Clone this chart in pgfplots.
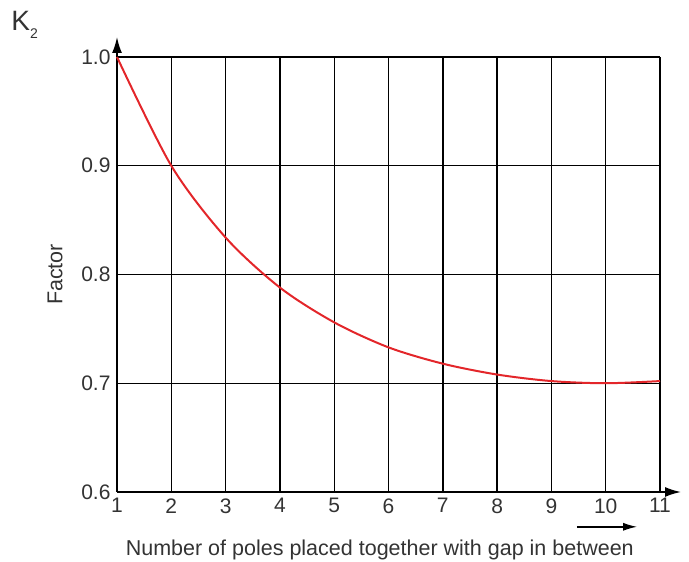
\documentclass[border=0pt]{standalone}
\usepackage{pgfplots}
\pgfplotsset{compat=1.18}
\usepackage{fontspec}
\setmainfont{Liberation Sans}
\usetikzlibrary{arrows.meta}
\definecolor{curvered}{HTML}{E3262A}
\definecolor{txt}{HTML}{333333}

\begin{document}
\begin{tikzpicture}
	% fixed page size, 1pt = 1px of the reference
	\useasboundingbox (0,0) rectangle (689pt,562pt);
	\begin{axis}[
	at={(117pt,70pt)},
	anchor=south west,
	scale only axis,
	width=543pt,
	height=435pt,
	xmin=1, xmax=11,
	ymin=0.6, ymax=1.0,
	xtick={1,...,11},
	ytick={0.6,0.7,0.8,0.9,1.0},
	yticklabel style={/pgf/number format/fixed, /pgf/number format/fixed zerofill, /pgf/number format/precision=1},
	/pgf/number format/assume math mode=true,
	major tick length=0pt,
	axis lines=left,
	x axis line style={-{Latex[length=16pt,width=10pt]}, line width=1.7pt, shorten >=-21pt},
	y axis line style={-{Latex[length=16pt,width=10pt]}, line width=1.7pt, shorten >=-20pt},
	grid=major,
	major grid style={black, line width=1.4pt},
	font=\fontsize{21.5}{25}\selectfont,
	ticklabel style={text=txt, font=\fontsize{21}{25}\selectfont},
	xticklabel style={yshift=-3pt},
	yticklabel style={xshift=-3pt},
	xlabel={Number of poles placed together with gap in between},
	ylabel={Factor},
	every axis x label/.style={at={(axis description cs:0.484,-0.133)}, anchor=center, text=txt},
	every axis y label/.style={at={(axis description cs:-0.114,0.5)}, rotate=90, anchor=center, text=txt},
	clip=false,
	]
	\addplot [curvered, line width=2pt, smooth] coordinates {
		(1,1.000) (2,0.900) (3,0.834) (4,0.788) (5,0.756) (6,0.733)
		(7,0.718) (8,0.708) (9,0.702) (10,0.700) (11,0.702)
	};
	\draw [-{Latex[length=14pt,width=8pt]}, line width=1.5pt] (axis cs:9.47,0.568) -- (axis cs:10.58,0.568);
	\node [text=txt, font=\fontsize{28}{32}\selectfont, inner sep=0pt] at (axis description cs:-0.17,1.075) {K\raisebox{-8pt}{\fontsize{14}{16}\selectfont 2}};
	\end{axis}
\end{tikzpicture}
\end{document}
